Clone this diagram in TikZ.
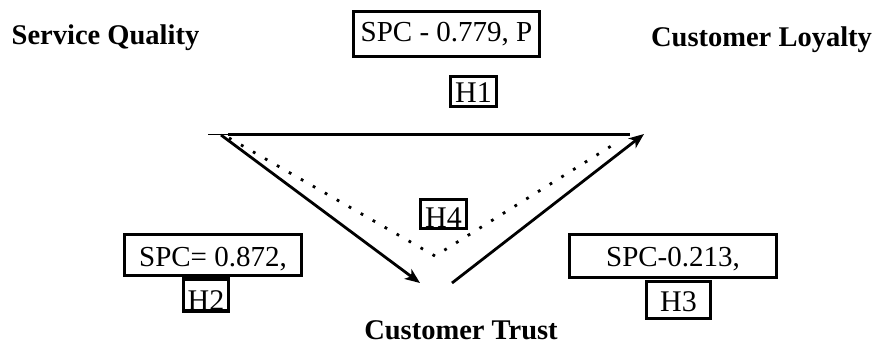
\documentclass[tikz,border=0pt]{standalone}
\usepackage{fontspec}
\setmainfont{Liberation Serif}
\usetikzlibrary{arrows.meta}
\begin{document}
\begin{tikzpicture}[x=1pt,y=-1pt,
  concept/.style={font=\fontsize{28.5}{32}\selectfont\bfseries, anchor=base, inner sep=0pt},
  valbox/.style={draw, line width=3.2pt, inner sep=0pt, text depth=0pt, font=\fontsize{29}{33}\selectfont},
  hbox/.style={draw, line width=3.2pt, inner sep=0pt, text depth=0pt, font=\fontsize{30}{34}\selectfont},
  arr/.style={line width=2.8pt, -{Stealth[length=15pt,width=12pt,inset=4pt]}},
  dots/.style={line width=2.8pt, dash pattern=on 2.8pt off 11pt}]
\useasboundingbox (0,0) rectangle (876,347);
% concept labels
\node[concept] (sq) at (105.5,45) {Service Quality};
\node[concept] (cl) at (761.5,47) {Customer Loyalty};
\node[concept] (ct) at (461,340) {Customer Trust};
% value boxes
\node[valbox, minimum width=186pt, minimum height=45pt, text height=16pt] (v1) at (446.5,34) {SPC - 0.779, P};
\node[hbox, minimum width=46pt, minimum height=30pt, text height=23pt] (h1) at (473.5,91.5) {H1};
\node[hbox, minimum width=46pt, minimum height=29pt, text height=28pt] (h4) at (443.5,214) {H4};
\node[valbox, minimum width=177pt, minimum height=41pt, text height=24pt] (v2) at (213,255) {SPC= 0.872,};
\node[hbox, minimum width=45pt, minimum height=29pt, text height=32pt, text depth=-2pt] (h2) at (206,295) {H2};
\node[valbox, minimum width=207pt, minimum height=43pt, text height=22pt] (v3) at (673,256) {SPC-0.213,};
\node[hbox, minimum width=64pt, minimum height=37pt, text height=24pt] (h3) at (678.5,300) {H3};
% vertices
\coordinate (ht) at (208,134.5);
\coordinate (hl) at (228,134.5);
\coordinate (hr) at (630,134.5);
\coordinate (sqv) at (221,135);
\coordinate (ctv) at (420,283);
\coordinate (ctw) at (452,283);
\coordinate (clv) at (644,134);
\coordinate (d1) at (229,138);
\coordinate (d2) at (435,256);
\coordinate (d3) at (616,143);
% connectors
\draw[line width=1pt] (ht) -- (hl);
\draw[line width=3.4pt] (hl) -- (hr);
\draw[arr] (sqv) -- (ctv);
\draw[arr] (ctw) -- (clv);
\draw[dots] (d1) -- (d2) -- (d3);
\end{tikzpicture}
\end{document}
